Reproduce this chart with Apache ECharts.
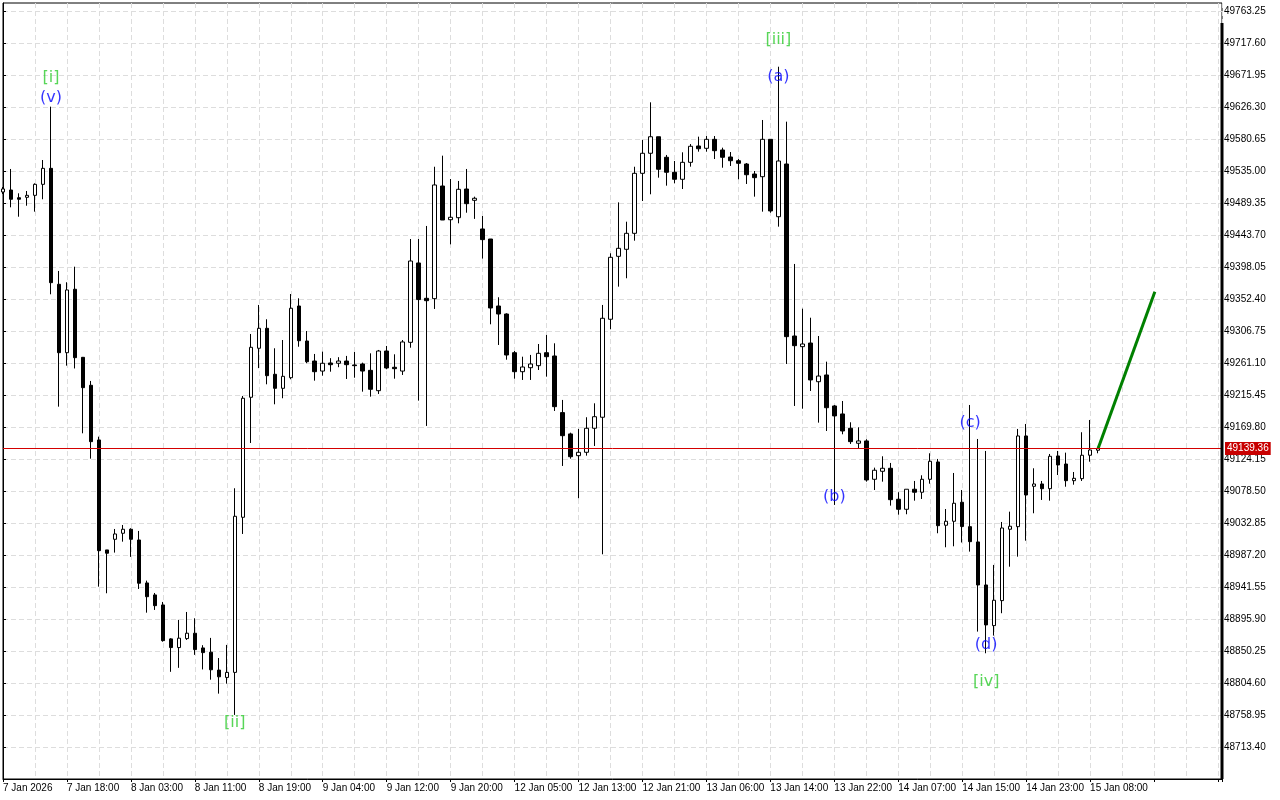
<!DOCTYPE html>
<html>
<head>
<meta charset="utf-8">
<title>H1 wave count</title>
<script src="https://cdn.jsdelivr.net/npm/echarts@6.0.0/dist/echarts.min.js"></script>
<style>
  html, body { margin: 0; padding: 0; background: #fff; }
  #chart { width: 1280px; height: 800px; }
</style>
</head>
<body>
<div id="chart"></div>
<script>
// hourly bars, 7 Jan 10:00 .. 15 Jan 09:00
const opens = [
  49505.5, 49508.3, 49497.3, 49497.9, 49500.7, 49516.4, 49539.2, 49373.8, 49276.2, 49366.7,
  49269.6, 49229.7, 49151.7, 48994.8, 49010.0, 49018.6, 49024.3, 49009.0, 48947.7, 48930.6,
  48916.3, 48867.9, 48855.5, 48868.3, 48876.0, 48855.0, 48848.9, 48823.4, 48812.9, 48820.1,
  49041.4, 49212.6, 49282.5, 49311.0, 49245.4, 49225.4, 49240.5, 49342.8, 49292.9, 49264.3,
  49250.0, 49261.5, 49261.1, 49264.3, 49258.7, 49260.1, 49251.0, 49222.0, 49278.6, 49255.4,
  49250.0, 49291.0, 49404.2, 49353.8, 49353.3, 49514.0, 49465.9, 49468.8, 49509.7, 49493.6,
  49452.7, 49438.4, 49342.8, 49331.4, 49276.2, 49249.1, 49254.8, 49257.7, 49276.2, 49271.5,
  49190.7, 49160.3, 49129.3, 49134.1, 49168.4, 49184.1, 49323.9, 49413.7, 49423.7, 49446.5,
  49532.1, 49560.7, 49584.3, 49555.0, 49533.6, 49523.6, 49547.8, 49571.1, 49567.8, 49580.6,
  49565.4, 49555.4, 49550.1, 49545.4, 49531.1, 49527.3, 49580.6, 49470.2, 49545.4, 49300.0,
  49284.8, 49290.0, 49234.8, 49244.4, 49200.2, 49188.8, 49168.4, 49147.0, 49150.3, 49095.6,
  49107.0, 49111.3, 49067.1, 49052.8, 49081.4, 49077.1, 49095.6, 49120.3, 49030.0, 49035.7,
  49062.8, 49028.0, 49006.2, 48944.8, 48886.8, 48922.5, 49024.3, 49028.0, 49157.4, 49085.6,
  49088.9, 49082.2, 49128.9, 49117.4, 49093.6, 49096.5, 49129.9, 49137.0
];
const closes = [
  49509.8, 49495.1, 49495.1, 49500.7, 49516.4, 49539.2, 49376.1, 49276.2, 49365.7, 49269.1,
  49226.3, 49149.3, 48993.8, 48990.1, 49017.6, 49024.3, 49010.0, 48947.3, 48928.1, 48915.3,
  48865.4, 48855.5, 48868.9, 48876.0, 48852.6, 48848.3, 48823.8, 48813.8, 48820.1, 49042.8,
  49211.2, 49283.9, 49311.0, 49243.4, 49225.4, 49242.5, 49339.6, 49293.3, 49263.3, 49249.1,
  49261.1, 49259.1, 49264.3, 49259.1, 49257.7, 49250.0, 49224.0, 49278.6, 49254.4, 49253.4,
  49291.5, 49407.0, 49352.0, 49350.4, 49515.5, 49465.5, 49469.4, 49509.3, 49488.8, 49496.5,
  49437.5, 49340.0, 49331.4, 49272.9, 49249.1, 49255.8, 49260.1, 49275.3, 49270.5, 49199.2,
  49157.8, 49127.8, 49134.1, 49168.4, 49184.9, 49325.3, 49412.3, 49425.1, 49446.5, 49532.1,
  49560.7, 49584.3, 49537.9, 49533.6, 49523.6, 49547.8, 49570.7, 49567.2, 49580.6, 49564.4,
  49555.0, 49550.1, 49546.4, 49530.1, 49525.9, 49580.6, 49478.4, 49549.7, 49299.1, 49286.2,
  49288.6, 49237.3, 49242.9, 49197.7, 49186.0, 49164.5, 49149.3, 49150.3, 49094.6, 49108.5,
  49111.3, 49066.5, 49052.8, 49081.4, 49077.1, 49095.6, 49121.3, 49029.4, 49035.7, 49061.4,
  49028.3, 49006.6, 48944.8, 48887.8, 48923.0, 49026.1, 49028.6, 49157.4, 49073.2, 49088.9,
  49082.2, 49128.4, 49116.0, 49093.6, 49097.0, 49129.9, 49137.4, 49139.36
];
const lows = [
  49502.6, 49483.6, 49470.2, 49485.9, 49477.4, 49495.1, 49359.5, 49199.2, 49257.7, 49253.7,
  49161.2, 49125.0, 48942.4, 48933.0, 48991.0, 49006.6, 48984.9, 48939.1, 48905.3, 48909.2,
  48863.9, 48820.9, 48826.6, 48866.4, 48845.1, 48824.3, 48809.7, 48789.8, 48804.0, 48759.4,
  49017.6, 49147.4, 49254.2, 49231.1, 49202.6, 49211.2, 49238.3, 49284.7, 49261.1, 49236.3,
  49243.4, 49249.1, 49255.5, 49238.7, 49240.5, 49220.6, 49213.5, 49217.3, 49252.6, 49239.1,
  49244.4, 49283.3, 49207.8, 49171.7, 49338.6, 49465.5, 49430.8, 49460.8, 49475.9, 49467.1,
  49410.4, 49316.7, 49287.2, 49266.2, 49239.1, 49237.3, 49237.3, 49251.5, 49242.0, 49193.1,
  49114.6, 49125.0, 49068.5, 49129.3, 49143.1, 48988.6, 49309.6, 49370.4, 49382.4, 49436.0,
  49492.6, 49502.2, 49525.9, 49514.5, 49517.9, 49509.7, 49541.6, 49563.0, 49563.0, 49552.5,
  49540.1, 49542.6, 49523.6, 49516.9, 49498.8, 49477.4, 49475.9, 49456.0, 49260.1, 49200.2,
  49196.3, 49221.6, 49176.4, 49164.5, 49059.0, 49159.8, 49146.0, 49139.8, 49092.2, 49080.3,
  49092.2, 49058.0, 49045.1, 49045.7, 49065.1, 49067.5, 49089.3, 49018.6, 48998.6, 49000.0,
  49005.4, 48992.4, 48878.3, 48847.4, 48872.6, 48904.5, 48970.9, 48985.2, 49008.0, 49047.1,
  49066.1, 49065.1, 49101.7, 49085.0, 49087.9, 49093.2, 49120.7, 49132.7
];
const highs = [
  49512.6, 49538.3, 49503.6, 49506.9, 49517.8, 49551.1, 49627.2, 49392.8, 49376.7, 49398.9,
  49270.1, 49235.9, 49156.4, 48994.8, 49024.7, 49030.4, 49025.7, 49021.9, 48951.0, 48933.4,
  48920.6, 48868.9, 48895.0, 48906.3, 48897.3, 48858.9, 48869.3, 48840.6, 48859.3, 49082.8,
  49214.5, 49302.9, 49344.3, 49323.9, 49282.5, 49294.3, 49359.9, 49353.8, 49307.1, 49274.4,
  49277.7, 49268.4, 49269.8, 49271.6, 49277.2, 49262.0, 49275.3, 49280.1, 49285.8, 49273.9,
  49294.3, 49438.4, 49438.4, 49457.0, 49541.5, 49557.3, 49524.0, 49521.2, 49538.3, 49498.8,
  49471.2, 49438.4, 49355.3, 49332.4, 49278.6, 49270.5, 49273.0, 49288.6, 49301.5, 49289.6,
  49208.8, 49162.1, 49167.4, 49184.1, 49204.0, 49344.3, 49418.0, 49490.7, 49463.1, 49541.5,
  49579.7, 49633.4, 49584.3, 49558.3, 49549.7, 49562.1, 49573.9, 49584.4, 49585.3, 49585.3,
  49568.7, 49562.5, 49552.5, 49546.8, 49535.4, 49608.2, 49580.6, 49684.2, 49605.8, 49402.8,
  49339.0, 49326.1, 49300.0, 49263.4, 49201.6, 49207.3, 49176.9, 49169.8, 49152.7, 49112.2,
  49128.4, 49118.9, 49077.1, 49081.4, 49093.2, 49101.3, 49132.7, 49124.6, 49053.2, 49104.6,
  49080.3, 49201.6, 49153.1, 49136.0, 48973.4, 49034.7, 49049.4, 49167.4, 49174.5, 49111.3,
  49093.2, 49131.7, 49136.0, 49133.6, 49106.0, 49162.7, 49180.2, 49142.1
];

// one time label every 8 bars
const timeLabels = [
  '7 Jan 2026', '7 Jan 18:00', '8 Jan 03:00', '8 Jan 11:00', '8 Jan 19:00', '9 Jan 04:00',
  '9 Jan 12:00', '9 Jan 20:00', '12 Jan 05:00', '12 Jan 13:00', '12 Jan 21:00', '13 Jan 06:00',
  '13 Jan 14:00', '13 Jan 22:00', '14 Jan 07:00', '14 Jan 15:00', '14 Jan 23:00', '15 Jan 08:00'
];
const priceTicks = [
  49763.25, 49717.60, 49671.95, 49626.30, 49580.65, 49535.00, 49489.35, 49443.70,
  49398.05, 49352.40, 49306.75, 49261.10, 49215.45, 49169.80, 49124.15, 49078.50,
  49032.85, 48987.20, 48941.55, 48895.90, 48850.25, 48804.60, 48758.95, 48713.40
];
const lastPrice = 49139.36;

// projected move after the last bar
const forecastX = [137, 144.1];
const forecastY = [49139.36, 49363.2];

// wave labels
const waveText = ['[i]', '(v)', '[ii]', '[iii]', '(a)', '(b)', '(c)', '(d)', '[iv]'];
const waveBar = [6, 6, 29, 97, 97, 104, 121, 123, 123];
const wavePrice = [49668.1, 49639.6, 48748.0, 49723.0, 49669.5, 49070.4, 49175.9, 48860.0, 48806.5];
const waveColor = ['#2ecc2e', '#0000ff', '#2ecc2e', '#2ecc2e', '#0000ff', '#0000ff', '#0000ff', '#0000ff', '#2ecc2e'];

const FONT = 'Liberation Sans';
const GRID_LINE = { color: '#dddddd', width: 1, type: [5, 3] };

const candles = opens.map((o, i) => [i, o, closes[i], lows[i], highs[i]]);
const forecast = forecastX.map((x, i) => [x, forecastY[i]]);
const waves = waveText.map((t, i) => ({
  value: [waveBar[i], wavePrice[i]],
  label: { color: waveColor[i] }
}));

const chart = echarts.init(document.getElementById('chart'));
chart.setOption({
  animation: false,
  backgroundColor: '#fff',
  grid: {
    left: 2, right: 58, top: 3, bottom: 21,
    show: true, borderColor: '#000', borderWidth: 1, backgroundColor: '#fff'
  },
  xAxis: {
    type: 'value',
    min: 0,
    max: 152.5,
    interval: 8,
    axisLine: { show: true, onZero: false, lineStyle: { color: '#000', width: 1 } },
    axisTick: { show: true, length: 3, lineStyle: { color: '#000' } },
    axisLabel: {
      align: 'left',
      margin: 4,
      color: '#000',
      fontFamily: FONT,
      fontSize: 10,
      formatter: function (v) {
        const k = v / 8;
        return (Number.isInteger(k) && k < timeLabels.length) ? timeLabels[k] : '';
      }
    },
    splitLine: { show: true, lineStyle: GRID_LINE },
    minorTick: { show: false, splitNumber: 2 },
    minorSplitLine: { show: true, lineStyle: GRID_LINE }
  },
  yAxis: {
    type: 'value',
    position: 'right',
    min: 48668.0,
    max: 49775.1,
    axisLine: { show: true, lineStyle: { color: '#000', width: 1 } },
    axisTick: { show: true, length: 3, customValues: priceTicks, lineStyle: { color: '#000' } },
    axisLabel: {
      customValues: priceTicks,
      margin: 2,
      color: '#000',
      fontFamily: FONT,
      fontSize: 10,
      formatter: function (v) { return v.toFixed(2); }
    },
    splitLine: { show: true, lineStyle: GRID_LINE }
  },
  graphic: [
    {
      type: 'line',
      silent: true,
      shape: { x1: 1222, y1: 23, x2: 1222, y2: 779 },
      style: { stroke: '#000', lineWidth: 3 },
      z: 100
    }
  ],
  series: [
    {
      type: 'candlestick',
      data: candles,
      encode: { x: 0, y: [1, 2, 3, 4] },
      barWidth: 4,
      itemStyle: {
        color: '#fff',
        color0: '#000',
        borderColor: '#000',
        borderColor0: '#000',
        borderWidth: 1
      },
      markLine: {
        silent: true,
        symbol: ['none', 'none'],
        precision: 2,
        lineStyle: { color: '#d40000', width: 1, type: 'solid' },
        label: {
          show: true,
          position: 'end',
          distance: 3,
          formatter: lastPrice.toFixed(2),
          color: '#fff',
          backgroundColor: '#c80000',
          padding: [2, 2, 1, 2],
          fontFamily: FONT,
          fontSize: 10
        },
        emphasis: { disabled: true },
        data: [{ yAxis: lastPrice }]
      },
      z: 3
    },
    {
      type: 'line',
      data: forecast,
      showSymbol: false,
      symbol: 'none',
      lineStyle: { color: '#008000', width: 3 },
      z: 4
    },
    {
      type: 'scatter',
      data: waves,
      symbolSize: 1,
      itemStyle: { color: 'rgba(0,0,0,0)' },
      label: {
        show: true,
        position: 'inside',
        fontFamily: 'DejaVu Sans',
        fontSize: 16,
        formatter: function (p) { return waveText[p.dataIndex]; }
      },
      z: 5
    }
  ]
});
</script>
</body>
</html>
